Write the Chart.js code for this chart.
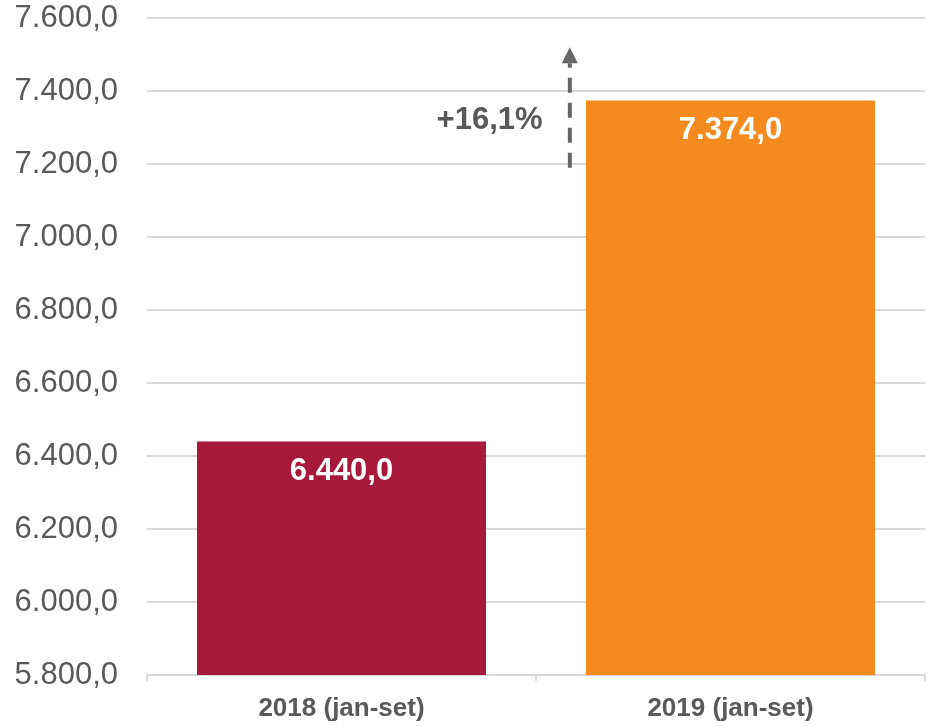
<!DOCTYPE html>
<html>
<head>
<meta charset="utf-8">
<script src="https://cdn.jsdelivr.net/npm/chart.js@4"></script>
<style>
  html, body { margin: 0; padding: 0; background: #fff; }
  #wrap { width: 928px; height: 726px; }
</style>
</head>
<body>
<div id="wrap"><canvas id="grafico"></canvas></div>
<script>
const categorias = ['2018 (jan-set)', '2019 (jan-set)'];
const valores = [6440.0, 7374.0];
const cores = ['#A6193C', '#F58B1F'];
const variacao = '+16,1%';

const fmt = v => v.toLocaleString('pt-BR', { minimumFractionDigits: 1, maximumFractionDigits: 1 });

// rótulos dentro das barras + seta de variação
const rotulos = {
  id: 'rotulos',
  afterDatasetsDraw(chart) {
    const ctx = chart.ctx;
    const meta = chart.getDatasetMeta(0);
    const xs = chart.scales.x, ys = chart.scales.y;
    ctx.save();
    ctx.fillStyle = '#fff';
    ctx.font = 'bold 31px "Liberation Sans", Arial, sans-serif';
    ctx.textAlign = 'center';
    ctx.textBaseline = 'middle';
    meta.data.forEach((bar, i) => {
      ctx.fillText(fmt(valores[i]), bar.x, bar.y + 30);
    });

    // seta tracejada
    const ax = xs.getPixelForValue(0.587);
    const yBase = ys.getPixelForValue(7190);
    const yTop = ys.getPixelForValue(7520);
    const yHead = yTop + 16;
    ctx.strokeStyle = '#666';
    ctx.fillStyle = '#666';
    ctx.lineWidth = 4;
    ctx.setLineDash([15, 10]);
    ctx.beginPath();
    ctx.moveTo(ax, yBase);
    ctx.lineTo(ax, yHead);
    ctx.stroke();
    ctx.setLineDash([]);
    ctx.beginPath();
    ctx.moveTo(ax, yTop);
    ctx.lineTo(ax - 8, yHead);
    ctx.lineTo(ax + 8, yHead);
    ctx.closePath();
    ctx.fill();

    ctx.fillStyle = '#595959';
    ctx.textAlign = 'right';
    ctx.fillText(variacao, xs.getPixelForValue(0.517), ys.getPixelForValue(7318));
    ctx.restore();
  }
};

new Chart(document.getElementById('grafico').getContext('2d'), {
  type: 'bar',
  data: {
    labels: categorias,
    datasets: [{
      data: valores,
      backgroundColor: cores,
      categoryPercentage: 1,
      barPercentage: 0.743
    }]
  },
  options: {
    responsive: true,
    maintainAspectRatio: false,
    animation: false,
    layout: { padding: { top: 18, right: 3, bottom: 0, left: 0 } },
    plugins: { legend: { display: false }, tooltip: { enabled: false } },
    scales: {
      y: {
        min: 5800,
        max: 7600,
        ticks: {
          stepSize: 200,
          padding: 29,
          color: '#595959',
          font: { family: '"Liberation Sans", Arial, sans-serif', size: 31 },
          callback: v => fmt(v)
        },
        grid: { color: '#d9d9d9', lineWidth: 2, drawTicks: false },
        border: { display: false },
        afterFit: s => { s.width = 147; s.paddingTop = 0; s.paddingBottom = 0; }
      },
      x: {
        ticks: {
          padding: 12,
          color: '#595959',
          font: { family: '"Liberation Sans", Arial, sans-serif', size: 26, weight: 'bold' }
        },
        grid: { color: '#d9d9d9', lineWidth: 2, drawOnChartArea: false, drawTicks: true, tickLength: 6, offset: true },
        border: { color: '#d9d9d9', width: 2 },
        afterFit: s => { s.height = 51; s.paddingLeft = 0; s.paddingRight = 0; }
      }
    }
  },
  plugins: [rotulos]
});
</script>
</body>
</html>
